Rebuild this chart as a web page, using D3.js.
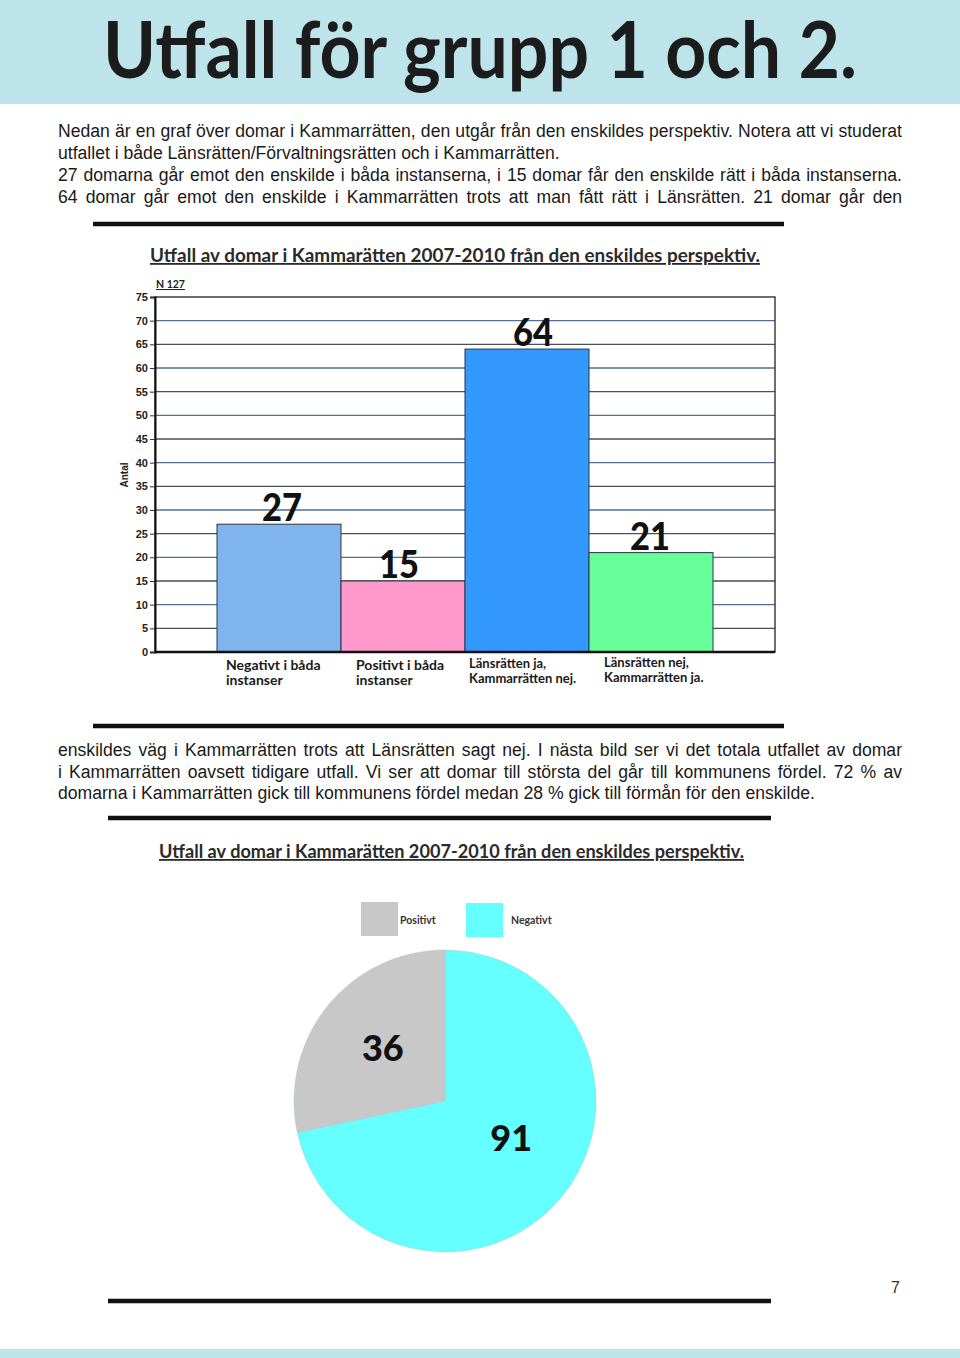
<!DOCTYPE html>
<html>
<head>
<meta charset="utf-8">
<script src="https://cdn.jsdelivr.net/npm/d3@7/dist/d3.min.js"></script>
<style>
    body { margin: 0; background: #fff; }
    #page { position: relative; width: 960px; height: 1358px; overflow: hidden; }
    #page svg { position: absolute; left: 0; top: 0; }
    .line {
        position: absolute; left: 58px;
        font-family: "Liberation Sans", Arial, sans-serif; font-size: 17.6px;
        color: #1a1a1a; line-height: 22px; white-space: nowrap;
    }
</style>
</head>
<body>
<div id="page"></div>
<script>
// page texts
var pageTitle = 'Utfall för grupp 1 och 2.';
var textTop = [
    'Nedan är en graf över domar i Kammarrätten, den utgår från den enskildes perspektiv. Notera att vi studerat',
    'utfallet i både Länsrätten/Förvaltningsrätten och i Kammarrätten.',
    '27 domarna går emot den enskilde i båda instanserna, i 15 domar får den enskilde rätt i båda instanserna.',
    '64 domar går emot den enskilde i Kammarrätten trots att man fått rätt i Länsrätten. 21 domar går den'
];
var textTopJustified = [true, false, true, true];
var textBottom = [
    'enskildes väg i Kammarrätten trots att Länsrätten sagt nej. I nästa bild ser vi det totala utfallet av domar',
    'i Kammarrätten oavsett tidigare utfall. Vi ser att domar till största del går till kommunens fördel. 72 % av',
    'domarna i Kammarrätten gick till kommunens fördel medan 28 % gick till förmån för den enskilde.'
];
var textBottomJustified = [true, true, false];
var pageNumber = '7';

// bar chart data
var barTitle = 'Utfall av domar i Kammarätten 2007-2010 från den enskildes perspektiv.';
var barNote = 'N 127';
var barAxisLabel = 'Antal';
var barCategories = [
    ['Negativt i båda', 'instanser'],
    ['Positivt i båda', 'instanser'],
    ['Länsrätten ja,', 'Kammarrätten nej.'],
    ['Länsrätten nej,', 'Kammarrätten ja.']
];
var barValues = [27, 15, 64, 21];
var barColors = ['#80b4ee', '#ff99cc', '#3399ff', '#66ff99'];
var barTicks = [0, 5, 10, 15, 20, 25, 30, 35, 40, 45, 50, 55, 60, 65, 70, 75];

// pie chart data
var pieTitle = 'Utfall av domar i Kammarätten 2007-2010 från den enskildes perspektiv.';
var pieLabels = ['Negativt', 'Positivt'];
var pieValues = [91, 36];
var pieColors = ['#66ffff', '#c8c8c8'];
var legendOrder = ['Positivt', 'Negativt'];

var calibri = 'Lato, "Open Sans", sans-serif';
var arial = '"Liberation Sans", Arial, sans-serif';
var textWidth = 844;

var page = d3.select('#page');
var svg = page.append('svg').attr('width', 960).attr('height', 1358);

// header band + bottom band
svg.append('rect').attr('x', 0).attr('y', 0).attr('width', 960).attr('height', 104).attr('fill', '#bde4ea');
svg.append('rect').attr('x', 0).attr('y', 1349).attr('width', 960).attr('height', 9).attr('fill', '#bde4ea');

svg.append('text')
    .attr('x', 103).attr('y', 78)
    .attr('textLength', 754).attr('lengthAdjust', 'spacingAndGlyphs')
    .style('font-family', calibri).style('font-weight', 700).style('font-size', '78px')
    .attr('fill', '#1c1c1c')
    .text(pageTitle);

// paragraph lines, justified ones get word spacing so they fill the width
function addLines(lines, justified, top, step){
    lines.forEach(function(t, i){
        var div = page.append('div')
            .attr('class', 'line')
            .style('top', (top + i * step) + 'px')
            .text(t);
        if(justified[i]){
            var w = div.node().getBoundingClientRect().width;
            var gaps = t.split(' ').length - 1;
            div.style('word-spacing', ((textWidth - w) / gaps) + 'px');
        }
    });
}
addLines(textTop, textTopJustified, 120, 22);
addLines(textBottom, textBottomJustified, 739, 21.5);

// thick separator lines
var rules = [[93, 784, 224], [93, 784, 726], [108, 771, 818], [108, 771, 1301]];
rules.forEach(function(r){
    svg.append('line')
        .attr('x1', r[0]).attr('x2', r[1]).attr('y1', r[2]).attr('y2', r[2])
        .attr('stroke', '#111').attr('stroke-width', 4.5);
});

svg.append('text')
    .attr('x', 900).attr('y', 1293).attr('text-anchor', 'end')
    .style('font-family', arial).style('font-size', '16px').attr('fill', '#333')
    .text(pageNumber);

// ---------- bar chart ----------
var plot = { left: 155, right: 775, top: 297, bottom: 652 };

var x = d3.scaleBand()
    .domain(d3.range(barValues.length))
    .range([plot.left, plot.right])
    .paddingInner(0).paddingOuter(0.5);

var y = d3.scaleLinear().domain([0, 75]).range([plot.bottom, plot.top]);

var bar = svg.append('g');

bar.append('text')
    .attr('x', 150).attr('y', 262)
    .attr('textLength', 610).attr('lengthAdjust', 'spacingAndGlyphs')
    .style('font-family', calibri).style('font-weight', 700).style('font-size', '18px')
    .style('text-decoration', 'underline').attr('fill', '#2a2a2a')
    .text(barTitle);

bar.append('text')
    .attr('x', 156).attr('y', 288)
    .style('font-family', calibri).style('font-weight', 700).style('font-size', '10.5px')
    .style('text-decoration', 'underline').attr('fill', '#222')
    .text(barNote);

// gridlines
bar.append('g').selectAll('line')
    .data(barTicks.filter(function(d){ return d > 0 && d < 75; }))
    .enter().append('line')
        .attr('x1', plot.left).attr('x2', plot.right)
        .attr('y1', function(d){ return y(d); }).attr('y2', function(d){ return y(d); })
        .attr('stroke', function(d){ return (d / 5) % 2 == 0 ? '#4f6f96' : '#4a4f58'; })
        .attr('stroke-width', 1.4);

// plot frame
bar.append('rect')
    .attr('x', plot.left).attr('y', plot.top)
    .attr('width', plot.right - plot.left).attr('height', plot.bottom - plot.top)
    .attr('fill', 'none').attr('stroke', '#222').attr('stroke-width', 1.3);

// bars
bar.append('g').selectAll('rect')
    .data(barValues)
    .enter().append('rect')
        .attr('x', function(d, i){ return x(i); })
        .attr('y', function(d){ return y(d); })
        .attr('width', x.bandwidth())
        .attr('height', function(d){ return y(0) - y(d); })
        .attr('fill', function(d, i){ return barColors[i]; })
        .attr('stroke', '#2d3540').attr('stroke-width', 1);

// value labels (nudged like the original)
var labelShift = [3, -4, 6, -1];
bar.append('g').selectAll('text')
    .data(barValues)
    .enter().append('text')
        .attr('x', function(d, i){ return x(i) + x.bandwidth() / 2 + labelShift[i]; })
        .attr('y', function(d){ return y(d) - 3; })
        .attr('text-anchor', 'middle')
        .attr('textLength', 40).attr('lengthAdjust', 'spacingAndGlyphs')
        .style('font-family', calibri).style('font-weight', 900).style('font-size', '38px')
        .attr('fill', '#111')
        .text(function(d){ return d; });

// y axis
var yAxis = d3.axisLeft(y).tickValues(barTicks).tickSize(5).tickPadding(2);
var yg = bar.append('g').attr('transform', 'translate(' + plot.left + ',0)').call(yAxis);
yg.select('.domain').attr('stroke', '#111').attr('stroke-width', 2);
yg.selectAll('.tick line').attr('stroke', '#333');
yg.selectAll('.tick text')
    .style('font-family', arial).style('font-weight', 700).style('font-size', '11px')
    .attr('fill', '#222');

// baseline
bar.append('line')
    .attr('x1', plot.left).attr('x2', plot.right)
    .attr('y1', y(0)).attr('y2', y(0))
    .attr('stroke', '#111').attr('stroke-width', 2.5);

bar.append('text')
    .attr('transform', 'translate(128,475) rotate(-90)')
    .attr('text-anchor', 'middle')
    .style('font-family', arial).style('font-weight', 700).style('font-size', '10px')
    .attr('fill', '#222')
    .text(barAxisLabel);

// category labels
var cat = bar.append('g').selectAll('text')
    .data(barCategories)
    .enter().append('text')
        .attr('x', function(d, i){ return x(i) + [9, 15, 4, 15][i]; })
        .attr('y', function(d, i){ return [670, 670, 668, 667][i]; })
        .style('font-family', calibri).style('font-weight', 700)
        .style('font-size', function(d, i){ return i < 2 ? '14px' : '13px'; })
        .attr('fill', '#1a1a1a');
cat.selectAll('tspan')
    .data(function(d){ return d; })
    .enter().append('tspan')
        .attr('x', function(){ return d3.select(this.parentNode).attr('x'); })
        .attr('dy', function(d, i){ return i == 0 ? 0 : 15; })
        .text(function(d){ return d; });

// ---------- pie chart ----------
var pie = svg.append('g');

pie.append('text')
    .attr('x', 159).attr('y', 858)
    .attr('textLength', 585).attr('lengthAdjust', 'spacingAndGlyphs')
    .style('font-family', calibri).style('font-weight', 700).style('font-size', '18px')
    .style('text-decoration', 'underline').attr('fill', '#2a2a2a')
    .text(pieTitle);

// legend
var legendX = [361, 466];
legendOrder.forEach(function(name, i){
    var k = pieLabels.indexOf(name);
    pie.append('rect')
        .attr('x', legendX[i]).attr('y', 902 + i)
        .attr('width', 37).attr('height', 34)
        .attr('fill', pieColors[k]);
    pie.append('text')
        .attr('x', legendX[i] + [39, 45][i]).attr('y', 924)
        .style('font-family', calibri).style('font-weight', 700).style('font-size', '10.5px')
        .attr('fill', '#333')
        .text(name);
});

var arcs = d3.pie().sort(null)(pieValues);
var arc = d3.arc().innerRadius(0).outerRadius(151);

var pg = pie.append('g').attr('transform', 'translate(445,1101)');
pg.selectAll('path')
    .data(arcs)
    .enter().append('path')
        .attr('d', arc)
        .attr('fill', function(d, i){ return pieColors[i]; })
        .attr('stroke', '#b0c8c8').attr('stroke-width', 0.5);

// slice labels
var labelArc = d3.arc().innerRadius(0).outerRadius(160);
var pieShift = [[4, -13], [0, -2]];
pg.selectAll('text')
    .data(arcs)
    .enter().append('text')
        .attr('transform', function(d, i){
            var c = labelArc.centroid(d);
            return 'translate(' + (c[0] + pieShift[i][0]) + ',' + (c[1] + pieShift[i][1]) + ')';
        })
        .attr('text-anchor', 'middle')
        .attr('dy', '0.35em')
        .style('font-family', calibri).style('font-weight', 900).style('font-size', '36px')
        .attr('fill', '#111')
        .text(function(d){ return d.data; });
</script>
</body>
</html>
